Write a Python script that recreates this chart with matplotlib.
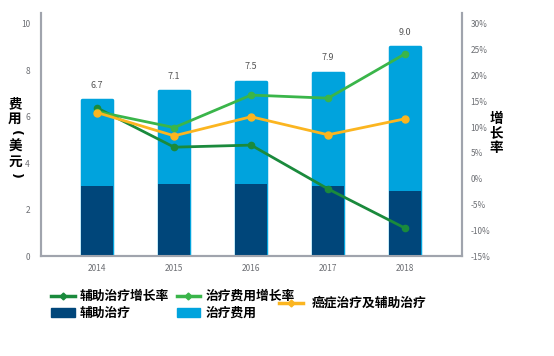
import matplotlib
matplotlib.use("Agg")
import matplotlib.pyplot as plt
from matplotlib.patches import Patch
from matplotlib.lines import Line2D

plt.rcParams['font.family'] = ['Noto Sans CJK SC', 'DejaVu Sans']

years = ['2014', '2015', '2016', '2017', '2018']
total_cost = [6.7, 7.1, 7.5, 7.9, 9.0]
aux_cost = [3.0, 3.1, 3.1, 3.0, 2.8]
aux_growth = [13.7, 6.1, 6.5, -2.0, -9.6]
treat_growth = [13.0, 9.9, 16.2, 15.6, 24.2]
combined_growth = [12.8, 8.3, 12.0, 8.5, 11.6]

left_ticks = [0, 2, 4, 6, 8, 10]
right_ticks = [-15, -10, -5, 0, 5, 10, 15, 20, 25, 30]

c_dark_blue = '#00467a'
c_light_blue = '#00a3dd'
c_dark_green = '#1a8a3c'
c_light_green = '#3ab54a'
c_orange = '#fbb520'
c_axis = '#a0a4ad'
c_tick = '#6d6f74'

fig = plt.figure(figsize=(5.54, 3.56), dpi=100)
ax = fig.add_axes([41/554, 1-256/356, (462-41)/554, (256-13)/356])
x = list(range(len(years)))
w = 0.39
bl = ax.bar(x, total_cost, width=w, color=c_light_blue, edgecolor=c_light_blue,
            linewidth=2.5, joinstyle='round', zorder=2)
bd = ax.bar(x, aux_cost, width=w + 0.03, color=c_dark_blue, linewidth=0, zorder=3)
for xi, v in zip(x, total_cost):
    ax.text(xi, v + 0.45, f'{v:.1f}', ha='center', va='bottom', fontsize=6.5, color='#555555')

ax.set_xlim(-0.73, 4.74)
ax.set_ylim(0, 10.47)
ax.set_yticks(left_ticks)
ax.set_yticklabels([str(t) for t in left_ticks])
ax.set_xticks(x)
ax.set_xticklabels(years)
ax.tick_params(length=0, labelsize=6, colors=c_tick)
ax.tick_params(axis='x', pad=6)
ax.tick_params(axis='y', pad=8)
ax.spines['top'].set_visible(False)
for s in ['left', 'bottom', 'right']:
    ax.spines[s].set_color(c_axis)
    ax.spines[s].set_linewidth(1.5)

ax2 = ax.twinx()
ax2.set_ylim(-15, -15 + 45 * 10.47 / 10)
ax2.set_yticks(right_ticks)
ax2.set_yticklabels([f'{t}%' for t in right_ticks])
ax2.tick_params(length=0, labelsize=6, colors=c_tick, pad=6)
ax2.spines['top'].set_visible(False)
for s in ['left', 'bottom', 'right']:
    ax2.spines[s].set_color(c_axis)
    ax2.spines[s].set_linewidth(1.5)

l1, = ax2.plot(x, aux_growth, color=c_dark_green, lw=2, marker='o', ms=4.5, zorder=5)
l2, = ax2.plot(x, treat_growth, color=c_light_green, lw=2, marker='o', ms=4.5, zorder=5)
l3, = ax2.plot(x, combined_growth, color=c_orange, lw=2, marker='o', ms=5, zorder=6)

# vertical axis titles, character by character
left_chars = ['费', '用', '(', '美', '元', ')']
left_y = [104, 119, 133, 147, 162, 176]
for ch, yy in zip(left_chars, left_y):
    if ch in '()':
        fig.text(15/554, 1-yy/356, ch, ha='center', va='center', family='DejaVu Sans',
                 fontsize=9, fontweight='bold', rotation=-90, rotation_mode='anchor')
    else:
        fig.text(15/554, 1-yy/356, ch, ha='center', va='center',
                 fontsize=9.8, fontweight='bold')
right_chars = ['增', '长', '率']
for i, ch in enumerate(right_chars):
    fig.text(496/554, 1-(119 + i*14.5)/356, ch, ha='center', va='center',
             fontsize=9.8, fontweight='bold')

h1 = Line2D([], [], color=c_dark_green, lw=2.5, marker='D', ms=3.5)
h2 = Line2D([], [], color=c_light_green, lw=2.5, marker='D', ms=3.5)
h3 = Line2D([], [], color=c_orange, lw=2.5, marker='D', ms=3.5)
p1 = Patch(facecolor=c_dark_blue, edgecolor=c_dark_blue)
p2 = Patch(facecolor=c_light_blue, edgecolor=c_light_blue)
prop = {'size': 9.2, 'weight': 'bold'}
leg1 = fig.legend([h1, p1, h2, p2], ['辅助治疗增长率', '辅助治疗', '治疗费用增长率', '治疗费用'],
                  ncol=2, loc='upper left', bbox_to_anchor=(51/554, 1-290/356),
                  frameon=False, prop=prop, handlelength=1.85, handletextpad=0.4,
                  columnspacing=0.6, labelspacing=0.3, borderaxespad=0, borderpad=0)
leg2 = fig.legend([h3], ['癌症治疗及辅助治疗'], loc='upper left',
                  bbox_to_anchor=(279/554, 1-297/356), frameon=False, prop=prop,
                  handlelength=1.85, handletextpad=0.7, borderaxespad=0, borderpad=0)

fig.savefig('out.png', dpi=100)
